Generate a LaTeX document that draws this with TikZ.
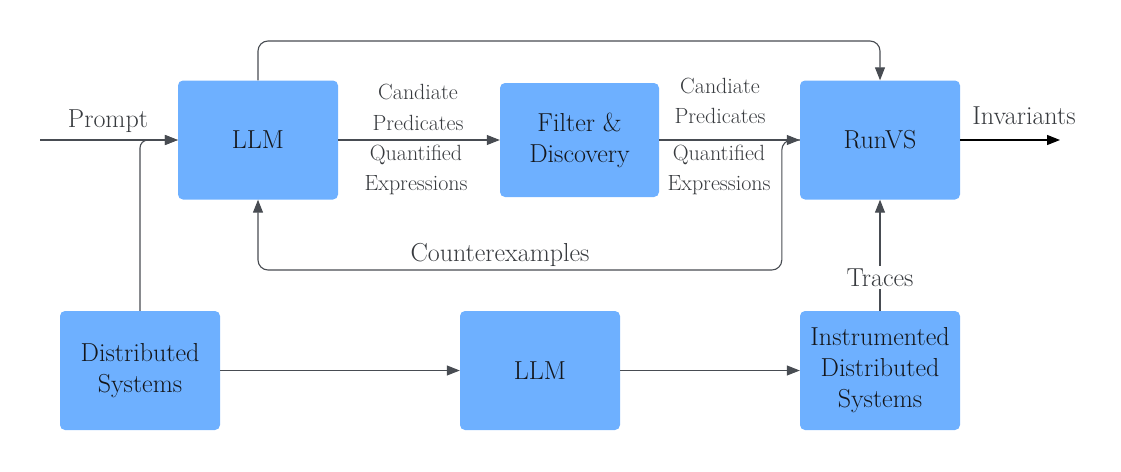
\documentclass[tikz,border=0pt]{standalone}
\usetikzlibrary{arrows.meta}
\definecolor{boxblue}{RGB}{110,176,255}
\definecolor{linegray}{RGB}{72,76,82}
\definecolor{txtgray}{RGB}{55,58,62}
\definecolor{boxtxt}{RGB}{20,22,26}
\begin{document}
\begin{tikzpicture}[x=1pt,y=-1pt,
  box/.style={fill=boxblue, rounded corners=5pt, minimum width=160pt, minimum height=119pt, align=center, inner sep=0pt, text=boxtxt, font=\fontsize{26}{31}\selectfont},
  arr/.style={draw=linegray, line width=1.1pt, -{Triangle[length=13pt,width=10pt]}},
  lbl/.style={text=txtgray, font=\fontsize{22}{26}\selectfont, inner sep=0pt},
  biglbl/.style={text=txtgray, font=\fontsize{26}{30}\selectfont, inner sep=0pt}]
\useasboundingbox (0,0) rectangle (1121,471);
\node[box] (llm) at (258,140) {LLM};
\node[box, minimum height=114pt, minimum width=159pt] (fd) at (579.5,140) {Filter \&\\Discovery};
\node[box] (runvs) at (880,140) {RunVS};
\node[box] (ds) at (140,370.5) {Distributed\\Systems};
\node[box] (llm2) at (540,370.5) {LLM};
\node[box] (ids) at (880,370.5) {Instrumented\\Distributed\\Systems};
\coordinate (pin) at (40,140);
\coordinate (pout) at (1060,140);
\coordinate (topy) at (0,41);
\coordinate (boty) at (0,270);
% prompt
\draw[arr] (pin) -- (llm.west);
\node[biglbl] (prompt) at (108,121) {Prompt};
% distributed systems up to LLM
\draw[arr, rounded corners=8pt] (ds.north) |- (llm.west);
% top loop LLM -> RunVS
\draw[arr, rounded corners=10pt] (llm.north) -- (llm.north |- topy) -| (runvs.north);
% LLM -> Filter
\draw[arr] (llm.east) -- (fd.west);
\node[lbl] (c1) at (418,92) {Candiate};
\node[lbl] (p1) at (418,123) {Predicates};
\node[lbl] (q1) at (416,155) {Quantified};
\node[lbl] (e1) at (416,185) {Expressions};
% Filter -> RunVS
\draw[arr] (fd.east) -- (runvs.west);
\node[lbl] (c2) at (720,86) {Candiate};
\node[lbl] (p2) at (720,116) {Predicates};
\node[lbl] (q2) at (719,155) {Quantified};
\node[lbl] (e2) at (719,185) {Expressions};
% counterexamples
\draw[arr, rounded corners=10pt] (runvs.west) -- ++(-18,0) |- (llm.south |- boty) -- (llm.south);
\node[biglbl] (cex) at (500,255) {Counterexamples};
% invariants
\draw[arr, draw=black] (runvs.east) -- (pout);
\node[biglbl] (inv) at (1024,116) {Invariants};
% bottom row
\draw[arr] (ds.east) -- (llm2.west);
\draw[arr] (llm2.east) -- (ids.west);
\draw[arr] (ids.north) -- node[biglbl, pos=0.3, fill=white, inner sep=3pt] (traces) {Traces} (runvs.south);
\end{tikzpicture}
\end{document}
